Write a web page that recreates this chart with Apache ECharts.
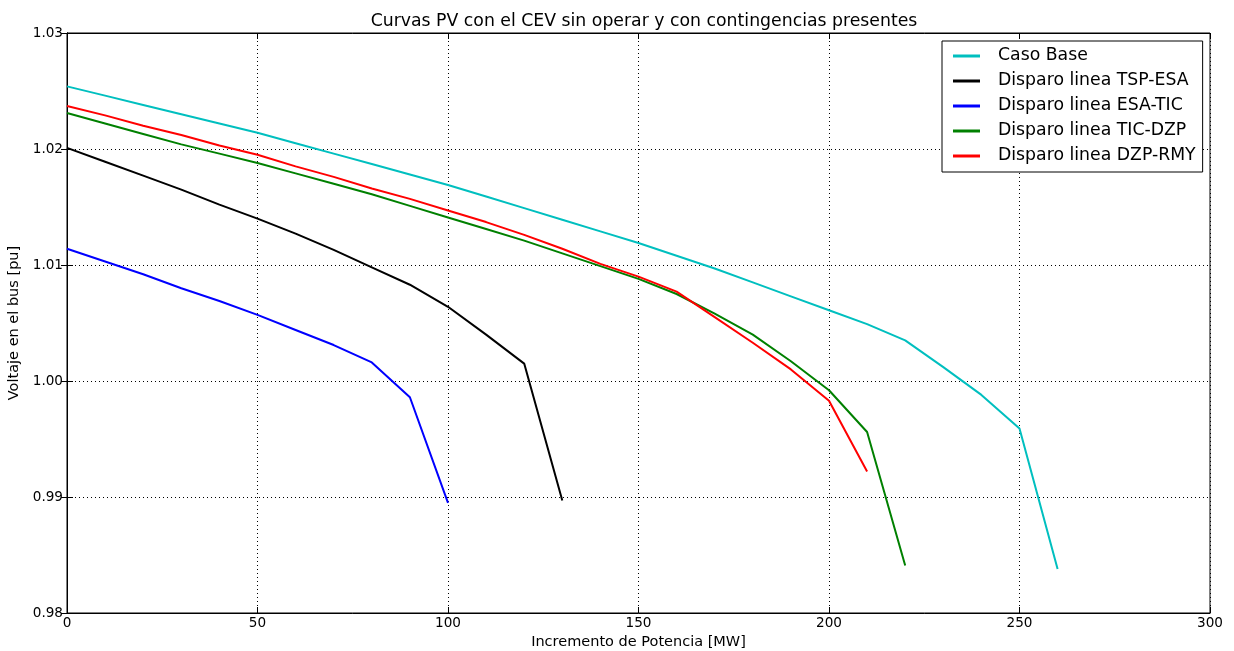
<!DOCTYPE html>
<html><head><meta charset="utf-8">
<script src="https://cdn.jsdelivr.net/npm/echarts@6/dist/echarts.min.js"></script>
<style>html,body{margin:0;padding:0;background:#fff}#c{width:1234px;height:651px}</style>
</head><body><div id="c"></div>
<script>
var seriesNames = ['Caso Base','Disparo linea TSP-ESA','Disparo linea ESA-TIC','Disparo linea TIC-DZP','Disparo linea DZP-RMY'];
var seriesColors = ['#00BFBF','#000000','#0000FF','#008000','#FF0000'];
var mwBase = [0,10,20,30,40,50,60,70,80,90,100,110,120,130,140,150,160,170,180,190,200,210,220,230,240,250,260];
var vBase = [1.0254,1.0246,1.0238,1.0230,1.0222,1.0214,1.0205,1.0196,1.0187,1.0178,1.0169,1.0159,1.0149,1.0139,1.0129,1.0119,1.0108,1.0097,1.0085,1.0073,1.0061,1.0049,1.0035,1.0012,0.9988,0.9959,0.9838];
var mwTSP = [0,10,20,30,40,50,60,70,80,90,100,110,120,130];
var vTSP = [1.0201,1.0189,1.0177,1.0165,1.0152,1.0140,1.0127,1.0113,1.0098,1.0083,1.0064,1.0040,1.0015,0.9897];
var mwESA = [0,10,20,30,40,50,60,70,80,90,100];
var vESA = [1.0114,1.0103,1.0092,1.0080,1.0069,1.0057,1.0044,1.0031,1.0016,0.9986,0.9895];
var mwTIC = [0,10,20,30,40,50,60,70,80,90,100,110,120,130,140,150,160,170,180,190,200,210,220];
var vTIC = [1.0231,1.0222,1.0213,1.0204,1.0196,1.0188,1.0179,1.0170,1.0161,1.0151,1.0141,1.0131,1.0121,1.0110,1.0099,1.0088,1.0075,1.0058,1.0040,1.0017,0.9992,0.9956,0.9841];
var mwDZP = [0,10,20,30,40,50,60,70,80,90,100,110,120,130,140,150,160,170,180,190,200,210];
var vDZP = [1.0237,1.0229,1.0220,1.0212,1.0203,1.0195,1.0185,1.0176,1.0166,1.0157,1.0147,1.0137,1.0126,1.0114,1.0101,1.0090,1.0077,1.0055,1.0033,1.0010,0.9983,0.9922];
var xTicks = [0,50,100,150,200,250,300];
var yTicks = [0.98,0.99,1.00,1.01,1.02,1.03];

function pairs(xs, ys){ return xs.map(function(x,i){ return [x, ys[i]]; }); }
var allData = [pairs(mwBase,vBase),pairs(mwTSP,vTSP),pairs(mwESA,vESA),pairs(mwTIC,vTIC),pairs(mwDZP,vDZP)];

var FONT = 'DejaVu Sans';
var chart = echarts.init(document.getElementById('c'), null, {renderer:'canvas'});
var gridLine = {show:true, lineStyle:{color:'#000', type:[1,3], width:1}};
var opt = {
  animation:false,
  backgroundColor:'#fff',
  title:{text:'Curvas PV con el CEV sin operar y con contingencias presentes', left:639, top:8, textAlign:'center',
    textStyle:{fontFamily:FONT, fontSize:17.3, fontWeight:'normal', color:'#000'}},
  legend:{orient:'vertical', left:942, top:41, data:seriesNames, backgroundColor:'#fff',
    borderColor:'#000', borderWidth:1, borderRadius:0, padding:[5,7,6,11], itemGap:5, itemWidth:27, itemHeight:3,
    icon:'rect',
    textStyle:{fontFamily:FONT, fontSize:17.3, lineHeight:20, color:'#000', padding:[0,0,0,13]}},
  grid:{left:67, right:24, top:33, bottom:38, show:true, borderColor:'#000', borderWidth:1, containLabel:false, outerBoundsMode:'none'},
  xAxis:[{type:'value', min:0, max:300, interval:50, name:'Incremento de Potencia [MW]', nameLocation:'middle', nameGap:22,
    nameTextStyle:{fontFamily:FONT, fontSize:14.5, color:'#000'},
    axisLine:{show:true, lineStyle:{color:'#000'}}, axisTick:{show:true, inside:true, length:6, lineStyle:{color:'#000'}},
    axisLabel:{fontFamily:FONT, fontSize:13.6, color:'#000', margin:3, formatter:function(v){return xTicks.indexOf(v)>=0?String(v):'';}},
    splitLine:gridLine},
   {type:'value', position:'top', min:0, max:300, interval:50, axisLine:{show:true, lineStyle:{color:'#000'}},
    axisTick:{show:true, inside:true, length:6, lineStyle:{color:'#000'}}, axisLabel:{show:false}, splitLine:{show:false}}],
  yAxis:[{type:'value', min:0.98, max:1.03, interval:0.01, name:'Voltaje en el bus [pu]', nameLocation:'middle', nameGap:42, nameRotate:90,
    nameTextStyle:{fontFamily:FONT, fontSize:14.5, color:'#000'},
    axisLine:{show:true, lineStyle:{color:'#000'}}, axisTick:{show:true, inside:true, length:6, lineStyle:{color:'#000'}},
    axisLabel:{fontFamily:FONT, fontSize:13.6, color:'#000', margin:4, formatter:function(v){return v.toFixed(2);}},
    splitLine:gridLine},
   {type:'value', position:'right', min:0.98, max:1.03, interval:0.01, axisLine:{show:true, lineStyle:{color:'#000'}},
    axisTick:{show:true, inside:true, length:6, lineStyle:{color:'#000'}}, axisLabel:{show:false}, splitLine:{show:false}}],
  series: seriesNames.map(function(n,i){
    return {name:n, type:'line', data:allData[i], showSymbol:false, symbol:'none', smooth:false,
      lineStyle:{color:seriesColors[i], width:2}, itemStyle:{color:seriesColors[i]}, z:2+i};
  })
};
chart.setOption(opt);
</script></body></html>
